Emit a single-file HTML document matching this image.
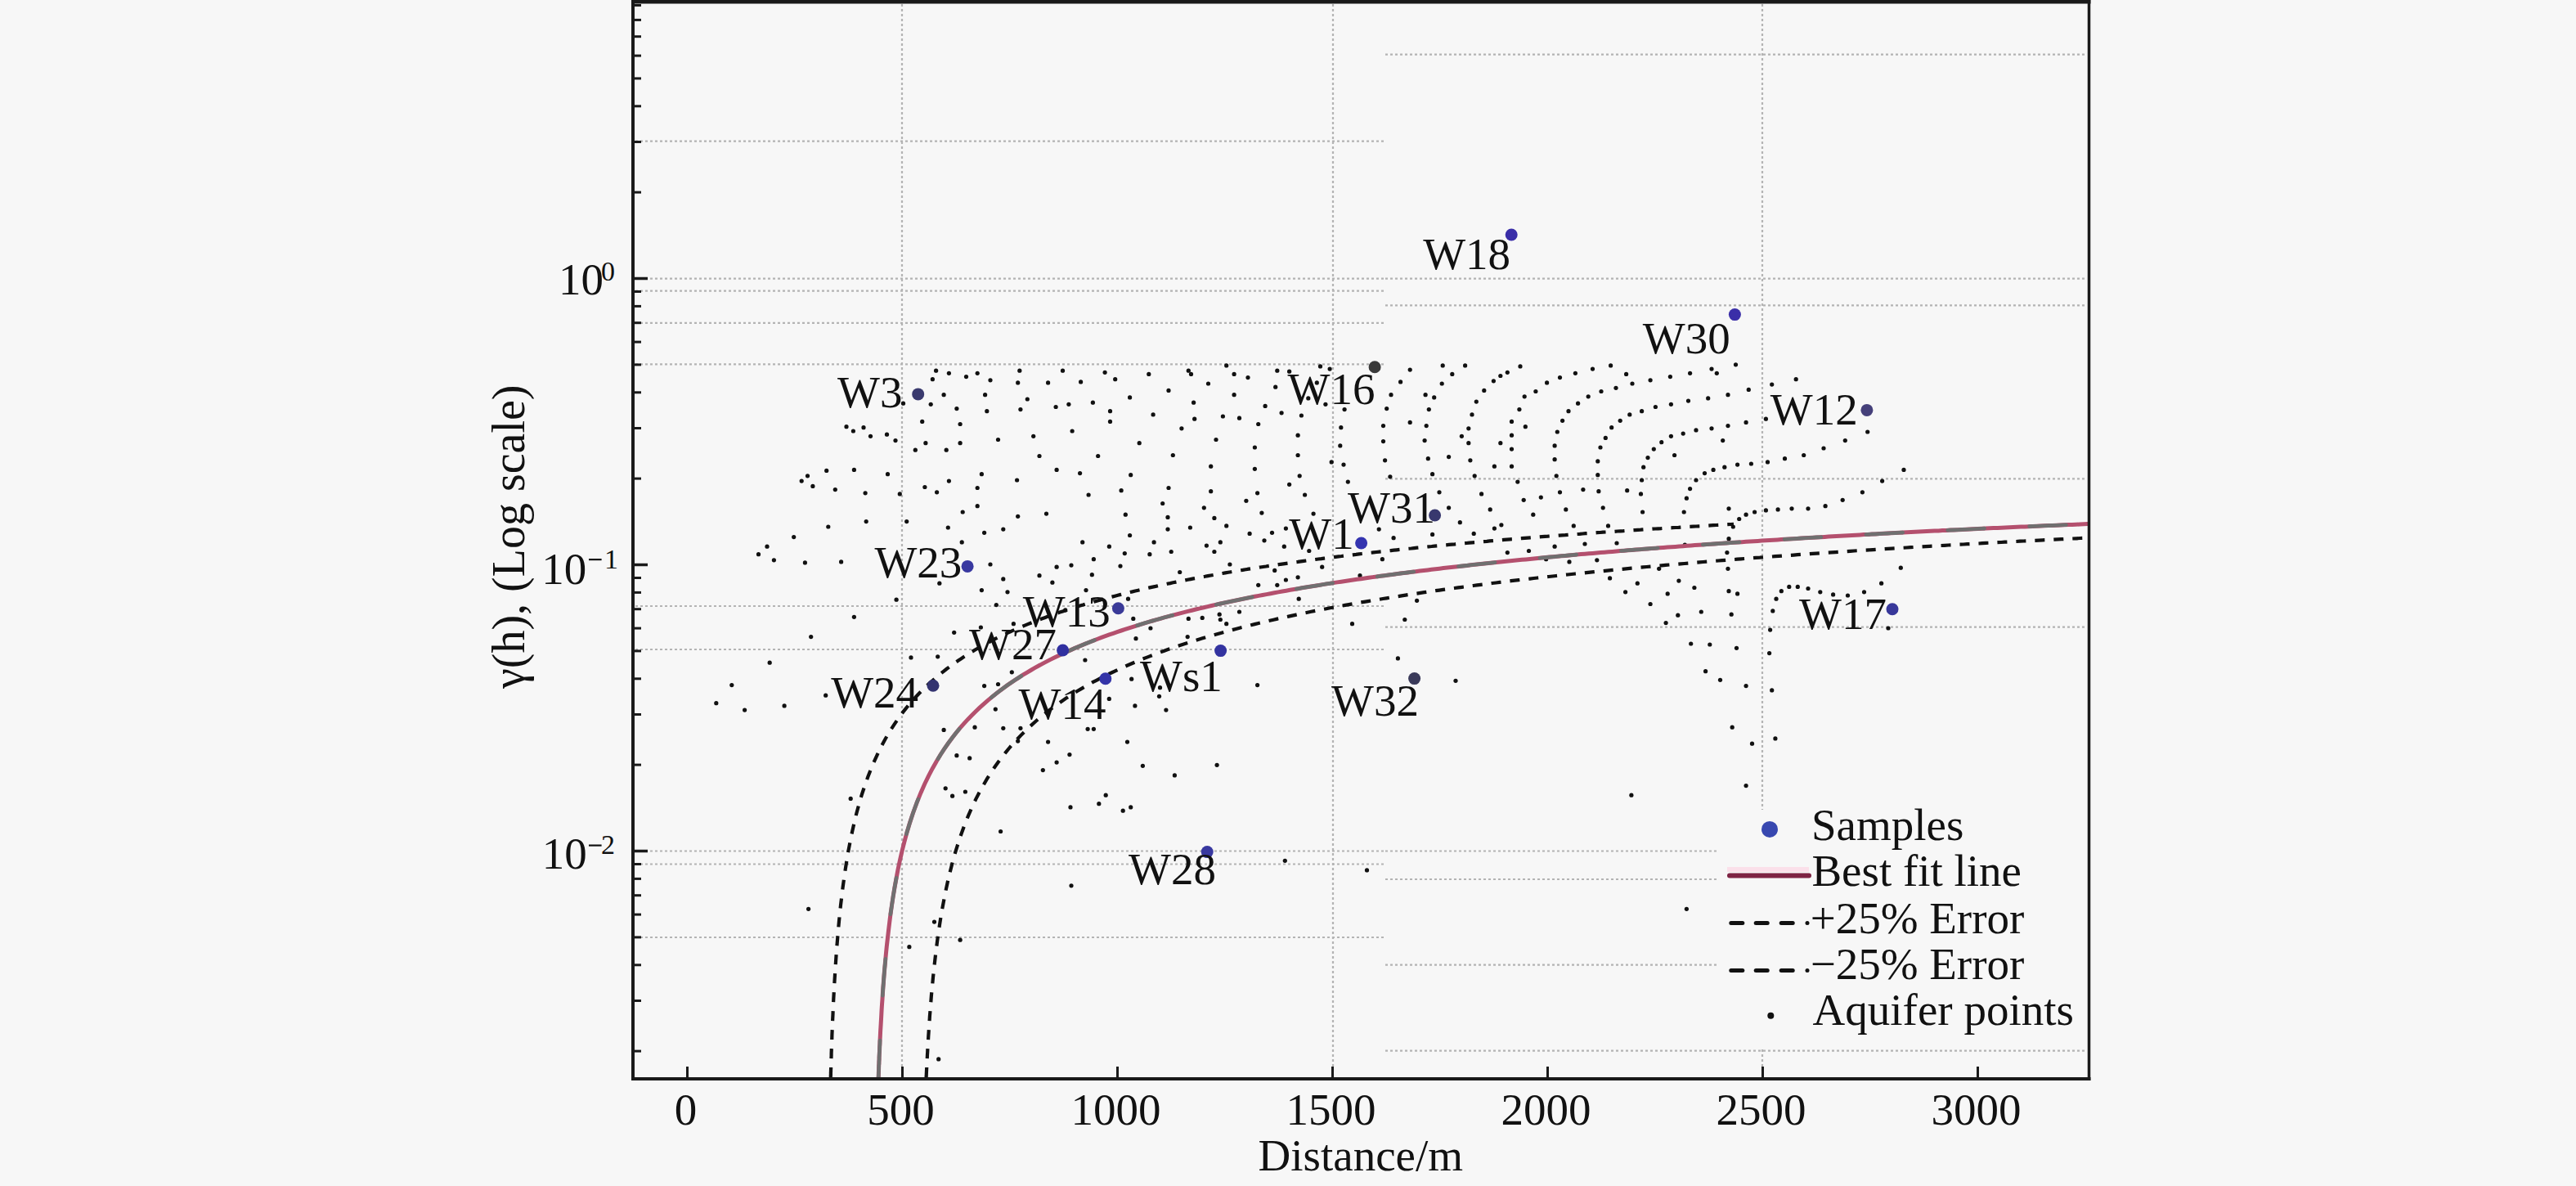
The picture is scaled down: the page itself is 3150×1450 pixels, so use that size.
<!DOCTYPE html><html><head><meta charset="utf-8"><style>html,body{margin:0;padding:0;background:#f7f7f7;}svg{display:block}</style></head><body>
<svg width="3150" height="1450" viewBox="0 0 3150 1450">
<rect width="3150" height="1450" fill="#f7f7f7"/>
<g stroke="#b4b4b4" stroke-width="2.2" stroke-dasharray="3 3" fill="none"><line x1="777" y1="172.6" x2="1694" y2="172.6"/><line x1="777" y1="340.6" x2="1694" y2="340.6"/><line x1="777" y1="355.7" x2="1694" y2="355.7"/><line x1="777" y1="394.9" x2="1694" y2="394.9"/><line x1="777" y1="445.3" x2="1694" y2="445.3"/><line x1="777" y1="741" x2="1694" y2="741"/><line x1="777" y1="794" x2="1694" y2="794"/><line x1="777" y1="1040.5" x2="1694" y2="1040.5"/><line x1="777" y1="1056.5" x2="1694" y2="1056.5"/><line x1="777" y1="1146" x2="1694" y2="1146"/><line x1="1694" y1="66.7" x2="2552" y2="66.7"/><line x1="1694" y1="340.6" x2="2552" y2="340.6"/><line x1="1694" y1="373.3" x2="2552" y2="373.3"/><line x1="1694" y1="585.3" x2="2552" y2="585.3"/><line x1="1694" y1="766.7" x2="2552" y2="766.7"/><line x1="1694" y1="1075" x2="2552" y2="1075"/><line x1="1694" y1="1179.6" x2="2552" y2="1179.6"/><line x1="1694" y1="1284.6" x2="2552" y2="1284.6"/><line x1="1694" y1="1040.5" x2="2552" y2="1040.5"/><line x1="1103" y1="5" x2="1103" y2="1316"/><line x1="1630" y1="5" x2="1630" y2="1316"/><line x1="2155" y1="5" x2="2155" y2="1316"/></g>

<g fill="#111"><circle cx="1144.6" cy="453.2" r="2.6"/><circle cx="1140.4" cy="463.7" r="2.6"/><circle cx="1160.4" cy="456.3" r="2.6"/><circle cx="1181.5" cy="460.6" r="2.6"/><circle cx="1195.2" cy="456.3" r="2.6"/><circle cx="1211.0" cy="464.8" r="2.6"/><circle cx="1246.8" cy="453.2" r="2.6"/><circle cx="1299.5" cy="453.2" r="2.6"/><circle cx="1351.1" cy="455.3" r="2.6"/><circle cx="1244.7" cy="467.9" r="2.6"/><circle cx="1281.6" cy="467.9" r="2.6"/><circle cx="1321.6" cy="466.9" r="2.6"/><circle cx="1154.1" cy="482.7" r="2.6"/><circle cx="1204.6" cy="482.7" r="2.6"/><circle cx="1256.3" cy="488.0" r="2.6"/><circle cx="1291.1" cy="497.5" r="2.6"/><circle cx="1306.9" cy="494.3" r="2.6"/><circle cx="1336.4" cy="492.2" r="2.6"/><circle cx="1357.5" cy="502.7" r="2.6"/><circle cx="1104.5" cy="493.2" r="2.6"/><circle cx="1138.2" cy="494.3" r="2.6"/><circle cx="1169.9" cy="499.6" r="2.6"/><circle cx="1206.8" cy="502.7" r="2.6"/><circle cx="1247.9" cy="500.6" r="2.6"/><circle cx="1357.5" cy="515.4" r="2.6"/><circle cx="1127.7" cy="515.4" r="2.6"/><circle cx="1174.1" cy="518.5" r="2.6"/><circle cx="1311.1" cy="527.0" r="2.6"/><circle cx="1263.7" cy="533.3" r="2.6"/><circle cx="1035.0" cy="521.7" r="2.6"/><circle cx="1043.4" cy="527.0" r="2.6"/><circle cx="1056.0" cy="522.7" r="2.6"/><circle cx="1064.5" cy="533.3" r="2.6"/><circle cx="1084.5" cy="531.2" r="2.6"/><circle cx="1095.0" cy="538.6" r="2.6"/><circle cx="1131.9" cy="541.7" r="2.6"/><circle cx="1119.3" cy="550.2" r="2.6"/><circle cx="1157.2" cy="550.2" r="2.6"/><circle cx="1174.1" cy="541.7" r="2.6"/><circle cx="1220.5" cy="537.5" r="2.6"/><circle cx="1271.0" cy="557.5" r="2.6"/><circle cx="1342.7" cy="557.5" r="2.6"/><circle cx="987.5" cy="581.8" r="2.6"/><circle cx="980.2" cy="588.1" r="2.6"/><circle cx="1010.7" cy="575.4" r="2.6"/><circle cx="1044.4" cy="574.4" r="2.6"/><circle cx="1085.5" cy="579.7" r="2.6"/><circle cx="1292.1" cy="574.4" r="2.6"/><circle cx="1320.6" cy="578.6" r="2.6"/><circle cx="1200.4" cy="579.7" r="2.6"/><circle cx="993.9" cy="594.4" r="2.6"/><circle cx="1021.3" cy="598.6" r="2.6"/><circle cx="1058.1" cy="602.8" r="2.6"/><circle cx="1100.3" cy="603.9" r="2.6"/><circle cx="1130.9" cy="595.5" r="2.6"/><circle cx="1145.6" cy="601.8" r="2.6"/><circle cx="1160.4" cy="588.1" r="2.6"/><circle cx="1195.2" cy="596.5" r="2.6"/><circle cx="1243.6" cy="587.0" r="2.6"/><circle cx="1331.1" cy="605.0" r="2.6"/><circle cx="1195.2" cy="618.7" r="2.6"/><circle cx="1177.2" cy="626.0" r="2.6"/><circle cx="1244.7" cy="631.3" r="2.6"/><circle cx="1279.5" cy="628.1" r="2.6"/><circle cx="1059.2" cy="637.6" r="2.6"/><circle cx="1108.7" cy="637.6" r="2.6"/><circle cx="1012.8" cy="644.0" r="2.6"/><circle cx="1159.3" cy="645.0" r="2.6"/><circle cx="1203.6" cy="651.3" r="2.6"/><circle cx="1226.8" cy="647.1" r="2.6"/><circle cx="970.7" cy="656.6" r="2.6"/><circle cx="938.0" cy="668.2" r="2.6"/><circle cx="927.5" cy="677.7" r="2.6"/><circle cx="1176.2" cy="662.9" r="2.6"/><circle cx="1323.7" cy="662.9" r="2.6"/><circle cx="1356.4" cy="668.2" r="2.6"/><circle cx="1363.7" cy="463.7" r="2.6"/><circle cx="1404.8" cy="457.4" r="2.6"/><circle cx="1453.3" cy="453.2" r="2.6"/><circle cx="1456.5" cy="457.4" r="2.6"/><circle cx="1499.7" cy="446.9" r="2.6"/><circle cx="1509.1" cy="457.4" r="2.6"/><circle cx="1526.0" cy="461.6" r="2.6"/><circle cx="1561.8" cy="453.2" r="2.6"/><circle cx="1576.6" cy="454.2" r="2.6"/><circle cx="1614.5" cy="447.9" r="2.6"/><circle cx="1626.1" cy="451.1" r="2.6"/><circle cx="1724.2" cy="452.1" r="2.6"/><circle cx="1764.2" cy="446.9" r="2.6"/><circle cx="1775.8" cy="457.4" r="2.6"/><circle cx="1791.6" cy="446.9" r="2.6"/><circle cx="1834.8" cy="459.5" r="2.6"/><circle cx="1843.3" cy="455.3" r="2.6"/><circle cx="1826.4" cy="465.8" r="2.6"/><circle cx="1712.6" cy="466.9" r="2.6"/><circle cx="1763.2" cy="469.0" r="2.6"/><circle cx="1477.5" cy="469.0" r="2.6"/><circle cx="1429.0" cy="477.4" r="2.6"/><circle cx="1381.6" cy="485.9" r="2.6"/><circle cx="1459.6" cy="492.2" r="2.6"/><circle cx="1509.1" cy="482.7" r="2.6"/><circle cx="1559.7" cy="473.2" r="2.6"/><circle cx="1610.3" cy="467.9" r="2.6"/><circle cx="1599.8" cy="486.9" r="2.6"/><circle cx="1620.9" cy="494.3" r="2.6"/><circle cx="1701.0" cy="482.7" r="2.6"/><circle cx="1743.1" cy="482.7" r="2.6"/><circle cx="1753.7" cy="485.9" r="2.6"/><circle cx="1814.8" cy="477.4" r="2.6"/><circle cx="1805.3" cy="491.1" r="2.6"/><circle cx="1547.1" cy="496.4" r="2.6"/><circle cx="1410.1" cy="506.9" r="2.6"/><circle cx="1460.7" cy="512.2" r="2.6"/><circle cx="1495.4" cy="509.0" r="2.6"/><circle cx="1515.5" cy="511.2" r="2.6"/><circle cx="1538.7" cy="518.5" r="2.6"/><circle cx="1567.1" cy="504.8" r="2.6"/><circle cx="1591.4" cy="508.0" r="2.6"/><circle cx="1644.1" cy="500.6" r="2.6"/><circle cx="1695.7" cy="499.6" r="2.6"/><circle cx="1747.3" cy="500.6" r="2.6"/><circle cx="1800.0" cy="506.9" r="2.6"/><circle cx="1444.9" cy="523.8" r="2.6"/><circle cx="1639.8" cy="522.7" r="2.6"/><circle cx="1691.5" cy="520.6" r="2.6"/><circle cx="1724.2" cy="516.4" r="2.6"/><circle cx="1744.2" cy="520.6" r="2.6"/><circle cx="1795.8" cy="523.8" r="2.6"/><circle cx="1848.5" cy="515.4" r="2.6"/><circle cx="1393.2" cy="541.7" r="2.6"/><circle cx="1487.0" cy="537.5" r="2.6"/><circle cx="1587.1" cy="532.2" r="2.6"/><circle cx="1691.5" cy="539.6" r="2.6"/><circle cx="1742.1" cy="538.6" r="2.6"/><circle cx="1787.4" cy="533.3" r="2.6"/><circle cx="1795.8" cy="541.7" r="2.6"/><circle cx="1834.8" cy="541.7" r="2.6"/><circle cx="1848.5" cy="532.2" r="2.6"/><circle cx="1434.3" cy="556.5" r="2.6"/><circle cx="1534.4" cy="547.0" r="2.6"/><circle cx="1587.1" cy="556.5" r="2.6"/><circle cx="1638.8" cy="544.9" r="2.6"/><circle cx="1771.6" cy="558.6" r="2.6"/><circle cx="1848.5" cy="549.1" r="2.6"/><circle cx="1480.7" cy="570.2" r="2.6"/><circle cx="1534.4" cy="573.3" r="2.6"/><circle cx="1628.2" cy="564.9" r="2.6"/><circle cx="1643.0" cy="568.1" r="2.6"/><circle cx="1693.6" cy="562.8" r="2.6"/><circle cx="1746.3" cy="560.7" r="2.6"/><circle cx="1797.9" cy="562.8" r="2.6"/><circle cx="1827.4" cy="570.2" r="2.6"/><circle cx="1848.5" cy="570.2" r="2.6"/><circle cx="1382.7" cy="580.7" r="2.6"/><circle cx="1589.2" cy="581.8" r="2.6"/><circle cx="1699.9" cy="582.8" r="2.6"/><circle cx="1751.6" cy="579.7" r="2.6"/><circle cx="1803.2" cy="581.8" r="2.6"/><circle cx="1371.1" cy="599.7" r="2.6"/><circle cx="1429.0" cy="596.5" r="2.6"/><circle cx="1576.6" cy="592.3" r="2.6"/><circle cx="1648.3" cy="589.1" r="2.6"/><circle cx="1480.7" cy="600.7" r="2.6"/><circle cx="1537.6" cy="602.8" r="2.6"/><circle cx="1595.6" cy="605.0" r="2.6"/><circle cx="1811.6" cy="603.9" r="2.6"/><circle cx="1421.7" cy="615.5" r="2.6"/><circle cx="1472.3" cy="620.8" r="2.6"/><circle cx="1523.9" cy="612.3" r="2.6"/><circle cx="1760.0" cy="601.8" r="2.6"/><circle cx="1771.6" cy="620.8" r="2.6"/><circle cx="1822.2" cy="622.9" r="2.6"/><circle cx="1376.3" cy="629.2" r="2.6"/><circle cx="1428.0" cy="632.4" r="2.6"/><circle cx="1484.9" cy="633.4" r="2.6"/><circle cx="1542.9" cy="627.1" r="2.6"/><circle cx="1606.1" cy="628.1" r="2.6"/><circle cx="1428.0" cy="647.1" r="2.6"/><circle cx="1455.4" cy="645.0" r="2.6"/><circle cx="1499.7" cy="642.9" r="2.6"/><circle cx="1572.4" cy="646.1" r="2.6"/><circle cx="1686.2" cy="647.1" r="2.6"/><circle cx="1785.3" cy="638.7" r="2.6"/><circle cx="1827.4" cy="646.1" r="2.6"/><circle cx="1835.9" cy="641.8" r="2.6"/><circle cx="1381.6" cy="654.5" r="2.6"/><circle cx="1411.1" cy="662.9" r="2.6"/><circle cx="1492.3" cy="662.9" r="2.6"/><circle cx="1528.1" cy="652.4" r="2.6"/><circle cx="1546.0" cy="660.8" r="2.6"/><circle cx="1555.5" cy="651.3" r="2.6"/><circle cx="1704.1" cy="657.7" r="2.6"/><circle cx="1751.6" cy="653.4" r="2.6"/><circle cx="1802.2" cy="652.4" r="2.6"/><circle cx="1475.4" cy="667.1" r="2.6"/><circle cx="1570.3" cy="668.2" r="2.6"/><circle cx="1600.8" cy="673.5" r="2.6"/><circle cx="1484.9" cy="674.5" r="2.6"/><circle cx="1432.2" cy="674.5" r="2.6"/><circle cx="1375.3" cy="676.6" r="2.6"/><circle cx="1405.9" cy="677.7" r="2.6"/><circle cx="1843.3" cy="675.6" r="2.6"/><circle cx="1859.0" cy="447.9" r="2.6"/><circle cx="1907.5" cy="461.6" r="2.6"/><circle cx="1926.4" cy="456.3" r="2.6"/><circle cx="1947.5" cy="451.1" r="2.6"/><circle cx="1969.6" cy="446.9" r="2.6"/><circle cx="1988.6" cy="457.4" r="2.6"/><circle cx="1996.0" cy="469.0" r="2.6"/><circle cx="2018.1" cy="464.8" r="2.6"/><circle cx="2042.4" cy="460.6" r="2.6"/><circle cx="2066.6" cy="456.3" r="2.6"/><circle cx="2093.0" cy="451.1" r="2.6"/><circle cx="2099.3" cy="456.3" r="2.6"/><circle cx="2122.5" cy="445.8" r="2.6"/><circle cx="2196.2" cy="463.7" r="2.6"/><circle cx="2166.7" cy="470.1" r="2.6"/><circle cx="2138.3" cy="476.4" r="2.6"/><circle cx="2113.0" cy="482.7" r="2.6"/><circle cx="1891.6" cy="467.9" r="2.6"/><circle cx="1877.9" cy="478.5" r="2.6"/><circle cx="1864.2" cy="484.8" r="2.6"/><circle cx="1857.9" cy="500.6" r="2.6"/><circle cx="1958.0" cy="478.5" r="2.6"/><circle cx="1976.0" cy="474.3" r="2.6"/><circle cx="1942.2" cy="484.8" r="2.6"/><circle cx="1929.6" cy="493.2" r="2.6"/><circle cx="1918.0" cy="502.7" r="2.6"/><circle cx="1910.6" cy="514.3" r="2.6"/><circle cx="1904.3" cy="528.0" r="2.6"/><circle cx="1901.1" cy="544.9" r="2.6"/><circle cx="1901.1" cy="561.7" r="2.6"/><circle cx="1903.2" cy="581.8" r="2.6"/><circle cx="1865.3" cy="521.7" r="2.6"/><circle cx="2088.7" cy="486.9" r="2.6"/><circle cx="2064.5" cy="490.1" r="2.6"/><circle cx="2043.4" cy="494.3" r="2.6"/><circle cx="2024.4" cy="497.5" r="2.6"/><circle cx="2007.6" cy="502.7" r="2.6"/><circle cx="1992.8" cy="506.9" r="2.6"/><circle cx="1981.2" cy="514.3" r="2.6"/><circle cx="1970.7" cy="522.7" r="2.6"/><circle cx="1963.3" cy="535.4" r="2.6"/><circle cx="1957.0" cy="547.0" r="2.6"/><circle cx="1953.8" cy="563.9" r="2.6"/><circle cx="1953.8" cy="580.7" r="2.6"/><circle cx="2159.4" cy="512.2" r="2.6"/><circle cx="2135.1" cy="516.4" r="2.6"/><circle cx="2113.0" cy="520.6" r="2.6"/><circle cx="2093.0" cy="523.8" r="2.6"/><circle cx="2074.0" cy="525.9" r="2.6"/><circle cx="2058.2" cy="530.1" r="2.6"/><circle cx="2043.4" cy="533.3" r="2.6"/><circle cx="2031.8" cy="540.7" r="2.6"/><circle cx="2022.3" cy="549.1" r="2.6"/><circle cx="2015.0" cy="559.6" r="2.6"/><circle cx="2009.7" cy="571.2" r="2.6"/><circle cx="2007.6" cy="587.0" r="2.6"/><circle cx="2006.5" cy="603.9" r="2.6"/><circle cx="2008.6" cy="626.0" r="2.6"/><circle cx="2047.6" cy="556.5" r="2.6"/><circle cx="2106.7" cy="538.6" r="2.6"/><circle cx="2283.7" cy="528.0" r="2.6"/><circle cx="2256.3" cy="538.6" r="2.6"/><circle cx="2230.0" cy="548.0" r="2.6"/><circle cx="2205.7" cy="556.5" r="2.6"/><circle cx="2182.5" cy="560.7" r="2.6"/><circle cx="2161.5" cy="564.9" r="2.6"/><circle cx="2141.4" cy="567.0" r="2.6"/><circle cx="2124.6" cy="568.1" r="2.6"/><circle cx="2108.8" cy="571.2" r="2.6"/><circle cx="2095.1" cy="574.4" r="2.6"/><circle cx="2084.5" cy="578.6" r="2.6"/><circle cx="2074.0" cy="587.0" r="2.6"/><circle cx="2066.6" cy="597.6" r="2.6"/><circle cx="2062.4" cy="609.2" r="2.6"/><circle cx="2059.2" cy="626.0" r="2.6"/><circle cx="2328.0" cy="574.4" r="2.6"/><circle cx="2301.6" cy="588.1" r="2.6"/><circle cx="2277.4" cy="601.8" r="2.6"/><circle cx="2253.2" cy="611.3" r="2.6"/><circle cx="2232.1" cy="618.7" r="2.6"/><circle cx="2211.0" cy="621.8" r="2.6"/><circle cx="2191.0" cy="621.8" r="2.6"/><circle cx="2174.1" cy="622.9" r="2.6"/><circle cx="2159.4" cy="623.9" r="2.6"/><circle cx="2145.6" cy="626.0" r="2.6"/><circle cx="2135.1" cy="629.2" r="2.6"/><circle cx="2126.7" cy="634.5" r="2.6"/><circle cx="2119.3" cy="644.0" r="2.6"/><circle cx="2114.0" cy="621.8" r="2.6"/><circle cx="1855.8" cy="589.1" r="2.6"/><circle cx="1935.9" cy="598.6" r="2.6"/><circle cx="1954.9" cy="600.7" r="2.6"/><circle cx="1989.7" cy="599.7" r="2.6"/><circle cx="1907.5" cy="601.8" r="2.6"/><circle cx="1884.3" cy="608.1" r="2.6"/><circle cx="1863.2" cy="611.3" r="2.6"/><circle cx="1914.8" cy="622.9" r="2.6"/><circle cx="1960.2" cy="620.8" r="2.6"/><circle cx="1874.8" cy="629.2" r="2.6"/><circle cx="1924.3" cy="642.9" r="2.6"/><circle cx="1966.5" cy="642.9" r="2.6"/><circle cx="1901.1" cy="668.2" r="2.6"/><circle cx="1938.0" cy="665.0" r="2.6"/><circle cx="1977.0" cy="664.0" r="2.6"/><circle cx="2060.3" cy="666.1" r="2.6"/><circle cx="2114.0" cy="658.7" r="2.6"/><circle cx="2111.9" cy="675.6" r="2.6"/><circle cx="1869.5" cy="673.5" r="2.6"/><circle cx="946.4" cy="684.8" r="2.6"/><circle cx="984.4" cy="687.9" r="2.6"/><circle cx="1028.6" cy="686.9" r="2.6"/><circle cx="1211.0" cy="690.0" r="2.6"/><circle cx="1226.8" cy="707.9" r="2.6"/><circle cx="1292.1" cy="693.2" r="2.6"/><circle cx="1310.0" cy="691.1" r="2.6"/><circle cx="1337.4" cy="683.7" r="2.6"/><circle cx="1271.0" cy="703.7" r="2.6"/><circle cx="1286.9" cy="712.2" r="2.6"/><circle cx="1335.3" cy="702.7" r="2.6"/><circle cx="1200.4" cy="721.6" r="2.6"/><circle cx="1232.0" cy="723.8" r="2.6"/><circle cx="1148.8" cy="713.2" r="2.6"/><circle cx="1096.1" cy="733.2" r="2.6"/><circle cx="1044.4" cy="754.3" r="2.6"/><circle cx="991.7" cy="778.6" r="2.6"/><circle cx="1166.7" cy="773.3" r="2.6"/><circle cx="1218.3" cy="739.6" r="2.6"/><circle cx="1328.0" cy="721.6" r="2.6"/><circle cx="941.2" cy="810.2" r="2.6"/><circle cx="1114.0" cy="803.9" r="2.6"/><circle cx="1146.7" cy="802.8" r="2.6"/><circle cx="1326.9" cy="807.0" r="2.6"/><circle cx="894.8" cy="837.6" r="2.6"/><circle cx="1009.7" cy="850.2" r="2.6"/><circle cx="875.8" cy="859.7" r="2.6"/><circle cx="910.6" cy="868.1" r="2.6"/><circle cx="959.1" cy="862.9" r="2.6"/><circle cx="1237.3" cy="821.8" r="2.6"/><circle cx="1203.6" cy="838.6" r="2.6"/><circle cx="1220.5" cy="836.5" r="2.6"/><circle cx="1217.3" cy="867.1" r="2.6"/><circle cx="1154.1" cy="892.4" r="2.6"/><circle cx="1192.0" cy="889.2" r="2.6"/><circle cx="1226.8" cy="890.3" r="2.6"/><circle cx="1247.9" cy="890.3" r="2.6"/><circle cx="1330.1" cy="891.3" r="2.6"/><circle cx="1337.4" cy="891.3" r="2.6"/><circle cx="1281.6" cy="907.1" r="2.6"/><circle cx="1244.7" cy="906.1" r="2.6"/><circle cx="1199.4" cy="767.0" r="2.6"/><circle cx="1239.4" cy="762.7" r="2.6"/><circle cx="1302.7" cy="745.9" r="2.6"/><circle cx="2324.3" cy="694.2" r="2.6"/><circle cx="1370.0" cy="692.1" r="2.6"/><circle cx="1379.5" cy="732.2" r="2.6"/><circle cx="1385.8" cy="756.4" r="2.6"/><circle cx="1389.0" cy="780.7" r="2.6"/><circle cx="1406.9" cy="768.0" r="2.6"/><circle cx="1453.3" cy="756.4" r="2.6"/><circle cx="1470.2" cy="755.4" r="2.6"/><circle cx="1491.2" cy="751.2" r="2.6"/><circle cx="1492.3" cy="757.5" r="2.6"/><circle cx="1499.7" cy="762.7" r="2.6"/><circle cx="1515.5" cy="748.0" r="2.6"/><circle cx="1538.7" cy="715.3" r="2.6"/><circle cx="1561.8" cy="715.3" r="2.6"/><circle cx="1572.4" cy="709.0" r="2.6"/><circle cx="1587.1" cy="705.8" r="2.6"/><circle cx="1588.2" cy="732.2" r="2.6"/><circle cx="1616.7" cy="693.2" r="2.6"/><circle cx="1663.0" cy="703.7" r="2.6"/><circle cx="1690.4" cy="683.7" r="2.6"/><circle cx="1732.6" cy="734.3" r="2.6"/><circle cx="1717.8" cy="757.5" r="2.6"/><circle cx="1653.5" cy="762.7" r="2.6"/><circle cx="1709.4" cy="804.9" r="2.6"/><circle cx="1780.0" cy="832.3" r="2.6"/><circle cx="1537.6" cy="837.6" r="2.6"/><circle cx="1383.7" cy="830.2" r="2.6"/><circle cx="1418.5" cy="840.7" r="2.6"/><circle cx="1417.5" cy="851.3" r="2.6"/><circle cx="1356.3" cy="854.4" r="2.6"/><circle cx="1387.9" cy="862.9" r="2.6"/><circle cx="1425.9" cy="868.1" r="2.6"/><circle cx="1378.5" cy="907.1" r="2.6"/><circle cx="1442.7" cy="699.5" r="2.6"/><circle cx="1503.9" cy="690.0" r="2.6"/><circle cx="1558.7" cy="697.4" r="2.6"/><circle cx="1452.2" cy="778.6" r="2.6"/><circle cx="1890.6" cy="683.7" r="2.6"/><circle cx="1919.0" cy="686.9" r="2.6"/><circle cx="1952.8" cy="684.8" r="2.6"/><circle cx="1968.6" cy="706.9" r="2.6"/><circle cx="2002.3" cy="713.2" r="2.6"/><circle cx="1987.6" cy="723.8" r="2.6"/><circle cx="2028.7" cy="695.3" r="2.6"/><circle cx="2052.9" cy="710.1" r="2.6"/><circle cx="2071.9" cy="718.5" r="2.6"/><circle cx="2039.2" cy="725.9" r="2.6"/><circle cx="2018.1" cy="738.5" r="2.6"/><circle cx="2113.0" cy="695.3" r="2.6"/><circle cx="2114.0" cy="722.7" r="2.6"/><circle cx="2124.6" cy="725.9" r="2.6"/><circle cx="2080.3" cy="748.0" r="2.6"/><circle cx="2051.8" cy="752.2" r="2.6"/><circle cx="2117.2" cy="751.2" r="2.6"/><circle cx="2037.1" cy="761.7" r="2.6"/><circle cx="2300.6" cy="713.2" r="2.6"/><circle cx="2279.5" cy="723.8" r="2.6"/><circle cx="2259.5" cy="728.0" r="2.6"/><circle cx="2241.6" cy="726.9" r="2.6"/><circle cx="2225.8" cy="723.8" r="2.6"/><circle cx="2211.0" cy="719.5" r="2.6"/><circle cx="2198.3" cy="717.4" r="2.6"/><circle cx="2187.8" cy="717.4" r="2.6"/><circle cx="2178.3" cy="722.7" r="2.6"/><circle cx="2172.0" cy="732.2" r="2.6"/><circle cx="2167.8" cy="746.9" r="2.6"/><circle cx="2164.6" cy="770.1" r="2.6"/><circle cx="2067.7" cy="787.0" r="2.6"/><circle cx="2090.8" cy="788.0" r="2.6"/><circle cx="2123.5" cy="792.3" r="2.6"/><circle cx="2163.6" cy="798.6" r="2.6"/><circle cx="2085.6" cy="820.7" r="2.6"/><circle cx="2103.5" cy="831.3" r="2.6"/><circle cx="2135.1" cy="838.6" r="2.6"/><circle cx="2166.7" cy="843.9" r="2.6"/><circle cx="2118.2" cy="889.2" r="2.6"/><circle cx="2142.5" cy="909.2" r="2.6"/><circle cx="2170.9" cy="902.9" r="2.6"/><circle cx="2309.0" cy="768.0" r="2.6"/><circle cx="1169.9" cy="923.7" r="2.6"/><circle cx="1185.7" cy="926.9" r="2.6"/><circle cx="1156.2" cy="963.8" r="2.6"/><circle cx="1164.6" cy="973.2" r="2.6"/><circle cx="1180.4" cy="968.0" r="2.6"/><circle cx="1040.2" cy="976.4" r="2.6"/><circle cx="1223.6" cy="1016.5" r="2.6"/><circle cx="1275.3" cy="941.6" r="2.6"/><circle cx="1292.1" cy="932.1" r="2.6"/><circle cx="1307.9" cy="922.6" r="2.6"/><circle cx="1309.0" cy="986.9" r="2.6"/><circle cx="1343.8" cy="982.7" r="2.6"/><circle cx="1352.2" cy="972.2" r="2.6"/><circle cx="1310.0" cy="1082.8" r="2.6"/><circle cx="988.6" cy="1111.3" r="2.6"/><circle cx="1142.5" cy="1127.1" r="2.6"/><circle cx="1174.1" cy="1149.2" r="2.6"/><circle cx="1111.9" cy="1157.7" r="2.6"/><circle cx="1397.4" cy="936.3" r="2.6"/><circle cx="1436.4" cy="947.9" r="2.6"/><circle cx="1488.1" cy="935.3" r="2.6"/><circle cx="1373.2" cy="991.2" r="2.6"/><circle cx="1382.7" cy="986.9" r="2.6"/><circle cx="1571.3" cy="1052.3" r="2.6"/><circle cx="1671.5" cy="1063.9" r="2.6"/><circle cx="1994.9" cy="972.2" r="2.6"/><circle cx="2135.1" cy="960.6" r="2.6"/><circle cx="2062.4" cy="1111.3" r="2.6"/><circle cx="1147.7" cy="1294.9" r="2.6"/></g>
<path d="M1074.2,1317.0 L1074.2,1317.0 L1074.2,1317.0 L1074.2,1317.0 L1074.2,1317.0 L1074.2,1317.0 L1074.2,1317.0 L1074.2,1317.0 L1074.2,1317.0 L1074.2,1317.0 L1074.2,1317.0 L1074.2,1317.0 L1074.2,1317.0 L1074.2,1317.0 L1074.2,1317.0 L1074.2,1317.0 L1074.2,1316.9 L1074.2,1316.9 L1074.2,1316.9 L1074.2,1316.9 L1074.2,1316.9 L1074.2,1316.9 L1074.2,1316.9 L1074.2,1316.9 L1074.2,1316.9 L1074.2,1316.9 L1074.2,1316.8 L1074.2,1316.8 L1074.2,1316.8 L1074.2,1316.8 L1074.2,1316.8 L1074.2,1316.7 L1074.2,1316.7 L1074.2,1316.7 L1074.2,1316.6 L1074.2,1316.6 L1074.2,1316.6 L1074.2,1316.5 L1074.2,1316.5 L1074.2,1316.4 L1074.2,1316.4 L1074.2,1316.3 L1074.2,1316.2 L1074.2,1316.2 L1074.2,1316.1 L1074.2,1316.0 L1074.2,1315.9 L1074.2,1315.8 L1074.3,1315.6 L1074.3,1315.5 L1074.3,1315.4 L1074.3,1315.2 L1074.3,1315.0 L1074.3,1314.8 L1074.3,1314.6 L1074.3,1314.4 L1074.3,1314.1 L1074.3,1313.8 L1074.3,1313.5 L1074.3,1313.1 L1074.4,1312.8 L1074.4,1312.4 L1074.4,1311.9 L1074.4,1311.4 L1074.4,1310.8 L1074.5,1310.2 L1074.5,1309.6 L1074.5,1308.9 L1074.5,1308.1 L1074.6,1307.2 L1074.6,1306.3 L1074.6,1305.2 L1074.7,1304.1 L1074.7,1302.9 L1074.8,1301.5 L1074.9,1300.1 L1074.9,1298.5 L1075.0,1296.8 L1075.1,1294.9 L1075.1,1292.8 L1075.2,1290.6 L1075.3,1288.2 L1075.5,1285.6 L1075.6,1282.8 L1075.7,1279.8 L1075.9,1276.5 L1076.0,1273.0 L1076.2,1269.2 L1076.4,1265.1 L1076.6,1260.8 L1076.9,1256.2 L1077.2,1251.2 L1077.5,1245.9 L1077.8,1240.4 L1078.1,1234.4 L1078.5,1228.2 L1079.0,1221.6 L1079.4,1214.7 L1079.9,1207.4 L1080.5,1199.8 L1081.1,1191.8 L1081.8,1183.6 L1082.6,1175.0 L1083.4,1166.1 L1084.3,1156.9 L1085.4,1147.4 L1086.5,1137.7 L1087.7,1127.7 L1089.0,1117.4 L1090.5,1107.0 L1092.1,1096.3 L1093.9,1085.5 L1095.9,1074.5 L1098.0,1063.3 L1100.4,1052.1 L1103.0,1040.7 L1105.9,1029.2 L1109.0,1017.7 L1112.5,1006.1 L1116.3,994.5 L1121.1,981.3 L1125.9,969.4 L1130.7,958.5 L1135.5,948.6 L1140.3,939.4 L1145.1,930.9 L1149.9,923.0 L1154.7,915.6 L1159.5,908.7 L1164.3,902.2 L1169.1,896.0 L1173.9,890.2 L1178.8,884.7 L1183.6,879.4 L1188.4,874.5 L1193.2,869.7 L1198.0,865.1 L1202.8,860.8 L1207.6,856.6 L1212.4,852.6 L1217.2,848.7 L1222.0,845.0 L1226.8,841.4 L1231.6,837.9 L1236.4,834.6 L1241.2,831.4 L1246.0,828.3 L1250.8,825.2 L1255.6,822.3 L1260.4,819.5 L1265.2,816.7 L1270.0,814.0 L1274.9,811.4 L1279.7,808.9 L1284.5,806.4 L1289.3,804.0 L1294.1,801.7 L1298.9,799.4 L1303.7,797.2 L1308.5,795.1 L1313.3,792.9 L1318.1,790.9 L1322.9,788.9 L1327.7,786.9 L1332.5,785.0 L1337.3,783.1 L1342.1,781.2 L1346.9,779.4 L1351.7,777.7 L1356.5,775.9 L1361.3,774.3 L1366.1,772.6 L1371.0,771.0 L1375.8,769.4 L1380.6,767.8 L1385.4,766.3 L1390.2,764.8 L1395.0,763.3 L1399.8,761.8 L1404.6,760.4 L1409.4,759.0 L1414.2,757.6 L1419.0,756.3 L1423.8,754.9 L1428.6,753.6 L1433.4,752.3 L1438.2,751.1 L1443.0,749.8 L1447.8,748.6 L1452.6,747.4 L1457.4,746.2 L1462.2,745.0 L1467.1,743.9 L1471.9,742.7 L1476.7,741.6 L1481.5,740.5 L1486.3,739.4 L1491.1,738.3 L1495.9,737.3 L1500.7,736.2 L1505.5,735.2 L1510.3,734.2 L1515.1,733.2 L1519.9,732.2 L1524.7,731.2 L1529.5,730.3 L1534.3,729.3 L1539.1,728.4 L1543.9,727.5 L1548.7,726.6 L1553.5,725.7 L1558.4,724.8 L1563.2,723.9 L1568.0,723.0 L1572.8,722.2 L1577.6,721.3 L1582.4,720.5 L1587.2,719.7 L1592.0,718.8 L1596.8,718.0 L1601.6,717.2 L1606.4,716.5 L1611.2,715.7 L1616.0,714.9 L1620.8,714.1 L1625.6,713.4 L1630.4,712.6 L1635.2,711.9 L1640.0,711.2 L1644.8,710.5 L1649.6,709.7 L1654.5,709.0 L1659.3,708.3 L1664.1,707.7 L1668.9,707.0 L1673.7,706.3 L1678.5,705.6 L1683.3,705.0 L1688.1,704.3 L1692.9,703.7 L1697.7,703.0 L1702.5,702.4 L1707.3,701.7 L1712.1,701.1 L1716.9,700.5 L1721.7,699.9 L1726.5,699.3 L1731.3,698.7 L1736.1,698.1 L1740.9,697.5 L1745.7,696.9 L1750.6,696.3 L1755.4,695.8 L1760.2,695.2 L1765.0,694.6 L1769.8,694.1 L1774.6,693.5 L1779.4,693.0 L1784.2,692.4 L1789.0,691.9 L1793.8,691.4 L1798.6,690.8 L1803.4,690.3 L1808.2,689.8 L1813.0,689.3 L1817.8,688.8 L1822.6,688.2 L1827.4,687.7 L1832.2,687.2 L1837.0,686.7 L1841.8,686.3 L1846.7,685.8 L1851.5,685.3 L1856.3,684.8 L1861.1,684.3 L1865.9,683.9 L1870.7,683.4 L1875.5,682.9 L1880.3,682.5 L1885.1,682.0 L1889.9,681.6 L1894.7,681.1 L1899.5,680.7 L1904.3,680.2 L1909.1,679.8 L1913.9,679.4 L1918.7,678.9 L1923.5,678.5 L1928.3,678.1 L1933.1,677.6 L1938.0,677.2 L1942.8,676.8 L1947.6,676.4 L1952.4,676.0 L1957.2,675.6 L1962.0,675.2 L1966.8,674.8 L1971.6,674.4 L1976.4,674.0 L1981.2,673.6 L1986.0,673.2 L1990.8,672.8 L1995.6,672.4 L2000.4,672.0 L2005.2,671.7 L2010.0,671.3 L2014.8,670.9 L2019.6,670.5 L2024.4,670.2 L2029.2,669.8 L2034.1,669.4 L2038.9,669.1 L2043.7,668.7 L2048.5,668.4 L2053.3,668.0 L2058.1,667.7 L2062.9,667.3 L2067.7,667.0 L2072.5,666.6 L2077.3,666.3 L2082.1,665.9 L2086.9,665.6 L2091.7,665.3 L2096.5,664.9 L2101.3,664.6 L2106.1,664.3 L2110.9,663.9 L2115.7,663.6 L2120.5,663.3 L2125.3,663.0 L2130.2,662.7 L2135.0,662.3 L2139.8,662.0 L2144.6,661.7 L2149.4,661.4 L2154.2,661.1 L2159.0,660.8 L2163.8,660.5 L2168.6,660.2 L2173.4,659.9 L2178.2,659.6 L2183.0,659.3 L2187.8,659.0 L2192.6,658.7 L2197.4,658.4 L2202.2,658.1 L2207.0,657.8 L2211.8,657.5 L2216.6,657.2 L2221.5,656.9 L2226.3,656.7 L2231.1,656.4 L2235.9,656.1 L2240.7,655.8 L2245.5,655.5 L2250.3,655.3 L2255.1,655.0 L2259.9,654.7 L2264.7,654.5 L2269.5,654.2 L2274.3,653.9 L2279.1,653.6 L2283.9,653.4 L2288.7,653.1 L2293.5,652.9 L2298.3,652.6 L2303.1,652.3 L2307.9,652.1 L2312.7,651.8 L2317.6,651.6 L2322.4,651.3 L2327.2,651.1 L2332.0,650.8 L2336.8,650.6 L2341.6,650.3 L2346.4,650.1 L2351.2,649.8 L2356.0,649.6 L2360.8,649.3 L2365.6,649.1 L2370.4,648.9 L2375.2,648.6 L2380.0,648.4 L2384.8,648.1 L2389.6,647.9 L2394.4,647.7 L2399.2,647.4 L2404.0,647.2 L2408.8,647.0 L2413.7,646.8 L2418.5,646.5 L2423.3,646.3 L2428.1,646.1 L2432.9,645.8 L2437.7,645.6 L2442.5,645.4 L2447.3,645.2 L2452.1,645.0 L2456.9,644.7 L2461.7,644.5 L2466.5,644.3 L2471.3,644.1 L2476.1,643.9 L2480.9,643.7 L2485.7,643.4 L2490.5,643.2 L2495.3,643.0 L2500.1,642.8 L2504.9,642.6 L2509.8,642.4 L2514.6,642.2 L2519.4,642.0 L2524.2,641.8 L2529.0,641.6 L2533.8,641.4 L2538.6,641.2 L2543.4,641.0 L2548.2,640.8 L2553.0,640.6" fill="none" stroke="#b4506e" stroke-width="5" stroke-linecap="round"/>
<path d="M1074.2,1317.0 L1074.2,1317.0 L1074.2,1317.0 L1074.2,1317.0 L1074.2,1317.0 L1074.2,1317.0 L1074.2,1317.0 L1074.2,1317.0 L1074.2,1317.0 L1074.2,1317.0 L1074.2,1317.0 L1074.2,1317.0 L1074.2,1317.0 L1074.2,1317.0 L1074.2,1317.0 L1074.2,1317.0 L1074.2,1316.9 L1074.2,1316.9 L1074.2,1316.9 L1074.2,1316.9 L1074.2,1316.9 L1074.2,1316.9 L1074.2,1316.9 L1074.2,1316.9 L1074.2,1316.9 L1074.2,1316.9 L1074.2,1316.8 L1074.2,1316.8 L1074.2,1316.8 L1074.2,1316.8 L1074.2,1316.8 L1074.2,1316.7 L1074.2,1316.7 L1074.2,1316.7 L1074.2,1316.6 L1074.2,1316.6 L1074.2,1316.6 L1074.2,1316.5 L1074.2,1316.5 L1074.2,1316.4 L1074.2,1316.4 L1074.2,1316.3 L1074.2,1316.2 L1074.2,1316.2 L1074.2,1316.1 L1074.2,1316.0 L1074.2,1315.9 L1074.2,1315.8 L1074.3,1315.6 L1074.3,1315.5 L1074.3,1315.4 L1074.3,1315.2 L1074.3,1315.0 L1074.3,1314.8 L1074.3,1314.6 L1074.3,1314.4 L1074.3,1314.1 L1074.3,1313.8 L1074.3,1313.5 L1074.3,1313.1 L1074.4,1312.8 L1074.4,1312.4 L1074.4,1311.9 L1074.4,1311.4 L1074.4,1310.8 L1074.5,1310.2 L1074.5,1309.6 L1074.5,1308.9 L1074.5,1308.1 L1074.6,1307.2 L1074.6,1306.3 L1074.6,1305.2 L1074.7,1304.1 L1074.7,1302.9 L1074.8,1301.5 L1074.9,1300.1 L1074.9,1298.5 L1075.0,1296.8 L1075.1,1294.9 L1075.1,1292.8 L1075.2,1290.6 L1075.3,1288.2 L1075.5,1285.6 L1075.6,1282.8 L1075.7,1279.8 L1075.9,1276.5 L1076.0,1273.0 L1076.2,1269.2 L1076.4,1265.1 L1076.6,1260.8 L1076.9,1256.2 L1077.2,1251.2 L1077.5,1245.9 L1077.8,1240.4 L1078.1,1234.4 L1078.5,1228.2 L1079.0,1221.6 L1079.4,1214.7 L1079.9,1207.4 L1080.5,1199.8 L1081.1,1191.8 L1081.8,1183.6 L1082.6,1175.0 L1083.4,1166.1 L1084.3,1156.9 L1085.4,1147.4 L1086.5,1137.7 L1087.7,1127.7 L1089.0,1117.4 L1090.5,1107.0 L1092.1,1096.3 L1093.9,1085.5 L1095.9,1074.5 L1098.0,1063.3 L1100.4,1052.1 L1103.0,1040.7 L1105.9,1029.2 L1109.0,1017.7 L1112.5,1006.1 L1116.3,994.5 L1121.1,981.3 L1125.9,969.4 L1130.7,958.5 L1135.5,948.6 L1140.3,939.4 L1145.1,930.9 L1149.9,923.0 L1154.7,915.6 L1159.5,908.7 L1164.3,902.2 L1169.1,896.0 L1173.9,890.2 L1178.8,884.7 L1183.6,879.4 L1188.4,874.5 L1193.2,869.7 L1198.0,865.1 L1202.8,860.8 L1207.6,856.6 L1212.4,852.6 L1217.2,848.7 L1222.0,845.0 L1226.8,841.4 L1231.6,837.9 L1236.4,834.6 L1241.2,831.4 L1246.0,828.3 L1250.8,825.2 L1255.6,822.3 L1260.4,819.5 L1265.2,816.7 L1270.0,814.0 L1274.9,811.4 L1279.7,808.9 L1284.5,806.4 L1289.3,804.0 L1294.1,801.7 L1298.9,799.4 L1303.7,797.2 L1308.5,795.1 L1313.3,792.9 L1318.1,790.9 L1322.9,788.9 L1327.7,786.9 L1332.5,785.0 L1337.3,783.1 L1342.1,781.2 L1346.9,779.4 L1351.7,777.7 L1356.5,775.9 L1361.3,774.3 L1366.1,772.6 L1371.0,771.0 L1375.8,769.4 L1380.6,767.8 L1385.4,766.3 L1390.2,764.8 L1395.0,763.3 L1399.8,761.8 L1404.6,760.4 L1409.4,759.0 L1414.2,757.6 L1419.0,756.3 L1423.8,754.9 L1428.6,753.6 L1433.4,752.3 L1438.2,751.1 L1443.0,749.8 L1447.8,748.6 L1452.6,747.4 L1457.4,746.2 L1462.2,745.0 L1467.1,743.9 L1471.9,742.7 L1476.7,741.6 L1481.5,740.5 L1486.3,739.4 L1491.1,738.3 L1495.9,737.3 L1500.7,736.2 L1505.5,735.2 L1510.3,734.2 L1515.1,733.2 L1519.9,732.2 L1524.7,731.2 L1529.5,730.3 L1534.3,729.3 L1539.1,728.4 L1543.9,727.5 L1548.7,726.6 L1553.5,725.7 L1558.4,724.8 L1563.2,723.9 L1568.0,723.0 L1572.8,722.2 L1577.6,721.3 L1582.4,720.5 L1587.2,719.7 L1592.0,718.8 L1596.8,718.0 L1601.6,717.2 L1606.4,716.5 L1611.2,715.7 L1616.0,714.9 L1620.8,714.1 L1625.6,713.4 L1630.4,712.6 L1635.2,711.9 L1640.0,711.2 L1644.8,710.5 L1649.6,709.7 L1654.5,709.0 L1659.3,708.3 L1664.1,707.7 L1668.9,707.0 L1673.7,706.3 L1678.5,705.6 L1683.3,705.0 L1688.1,704.3 L1692.9,703.7 L1697.7,703.0 L1702.5,702.4 L1707.3,701.7 L1712.1,701.1 L1716.9,700.5 L1721.7,699.9 L1726.5,699.3 L1731.3,698.7 L1736.1,698.1 L1740.9,697.5 L1745.7,696.9 L1750.6,696.3 L1755.4,695.8 L1760.2,695.2 L1765.0,694.6 L1769.8,694.1 L1774.6,693.5 L1779.4,693.0 L1784.2,692.4 L1789.0,691.9 L1793.8,691.4 L1798.6,690.8 L1803.4,690.3 L1808.2,689.8 L1813.0,689.3 L1817.8,688.8 L1822.6,688.2 L1827.4,687.7 L1832.2,687.2 L1837.0,686.7 L1841.8,686.3 L1846.7,685.8 L1851.5,685.3 L1856.3,684.8 L1861.1,684.3 L1865.9,683.9 L1870.7,683.4 L1875.5,682.9 L1880.3,682.5 L1885.1,682.0 L1889.9,681.6 L1894.7,681.1 L1899.5,680.7 L1904.3,680.2 L1909.1,679.8 L1913.9,679.4 L1918.7,678.9 L1923.5,678.5 L1928.3,678.1 L1933.1,677.6 L1938.0,677.2 L1942.8,676.8 L1947.6,676.4 L1952.4,676.0 L1957.2,675.6 L1962.0,675.2 L1966.8,674.8 L1971.6,674.4 L1976.4,674.0 L1981.2,673.6 L1986.0,673.2 L1990.8,672.8 L1995.6,672.4 L2000.4,672.0 L2005.2,671.7 L2010.0,671.3 L2014.8,670.9 L2019.6,670.5 L2024.4,670.2 L2029.2,669.8 L2034.1,669.4 L2038.9,669.1 L2043.7,668.7 L2048.5,668.4 L2053.3,668.0 L2058.1,667.7 L2062.9,667.3 L2067.7,667.0 L2072.5,666.6 L2077.3,666.3 L2082.1,665.9 L2086.9,665.6 L2091.7,665.3 L2096.5,664.9 L2101.3,664.6 L2106.1,664.3 L2110.9,663.9 L2115.7,663.6 L2120.5,663.3 L2125.3,663.0 L2130.2,662.7 L2135.0,662.3 L2139.8,662.0 L2144.6,661.7 L2149.4,661.4 L2154.2,661.1 L2159.0,660.8 L2163.8,660.5 L2168.6,660.2 L2173.4,659.9 L2178.2,659.6 L2183.0,659.3 L2187.8,659.0 L2192.6,658.7 L2197.4,658.4 L2202.2,658.1 L2207.0,657.8 L2211.8,657.5 L2216.6,657.2 L2221.5,656.9 L2226.3,656.7 L2231.1,656.4 L2235.9,656.1 L2240.7,655.8 L2245.5,655.5 L2250.3,655.3 L2255.1,655.0 L2259.9,654.7 L2264.7,654.5 L2269.5,654.2 L2274.3,653.9 L2279.1,653.6 L2283.9,653.4 L2288.7,653.1 L2293.5,652.9 L2298.3,652.6 L2303.1,652.3 L2307.9,652.1 L2312.7,651.8 L2317.6,651.6 L2322.4,651.3 L2327.2,651.1 L2332.0,650.8 L2336.8,650.6 L2341.6,650.3 L2346.4,650.1 L2351.2,649.8 L2356.0,649.6 L2360.8,649.3 L2365.6,649.1 L2370.4,648.9 L2375.2,648.6 L2380.0,648.4 L2384.8,648.1 L2389.6,647.9 L2394.4,647.7 L2399.2,647.4 L2404.0,647.2 L2408.8,647.0 L2413.7,646.8 L2418.5,646.5 L2423.3,646.3 L2428.1,646.1 L2432.9,645.8 L2437.7,645.6 L2442.5,645.4 L2447.3,645.2 L2452.1,645.0 L2456.9,644.7 L2461.7,644.5 L2466.5,644.3 L2471.3,644.1 L2476.1,643.9 L2480.9,643.7 L2485.7,643.4 L2490.5,643.2 L2495.3,643.0 L2500.1,642.8 L2504.9,642.6 L2509.8,642.4 L2514.6,642.2 L2519.4,642.0 L2524.2,641.8 L2529.0,641.6 L2533.8,641.4 L2538.6,641.2 L2543.4,641.0 L2548.2,640.8 L2553.0,640.6" fill="none" stroke="#707070" stroke-width="4.6" stroke-dasharray="45 55" stroke-linecap="round"/>
<path d="M1015.8,1317.0 L1015.8,1317.0 L1015.8,1317.0 L1015.8,1317.0 L1015.8,1317.0 L1015.8,1317.0 L1015.8,1317.0 L1015.8,1317.0 L1015.8,1317.0 L1015.8,1317.0 L1015.8,1317.0 L1015.8,1317.0 L1015.8,1317.0 L1015.8,1317.0 L1015.8,1316.9 L1015.8,1316.9 L1015.8,1316.9 L1015.8,1316.9 L1015.8,1316.9 L1015.8,1316.9 L1015.8,1316.9 L1015.8,1316.9 L1015.8,1316.9 L1015.8,1316.8 L1015.8,1316.8 L1015.8,1316.8 L1015.8,1316.8 L1015.8,1316.8 L1015.8,1316.7 L1015.8,1316.7 L1015.8,1316.7 L1015.8,1316.7 L1015.8,1316.6 L1015.8,1316.6 L1015.8,1316.5 L1015.8,1316.5 L1015.8,1316.4 L1015.8,1316.4 L1015.8,1316.3 L1015.8,1316.2 L1015.8,1316.2 L1015.8,1316.1 L1015.8,1316.0 L1015.8,1315.9 L1015.8,1315.8 L1015.8,1315.6 L1015.8,1315.5 L1015.8,1315.4 L1015.8,1315.2 L1015.8,1315.0 L1015.8,1314.8 L1015.8,1314.6 L1015.9,1314.4 L1015.9,1314.1 L1015.9,1313.8 L1015.9,1313.5 L1015.9,1313.1 L1015.9,1312.8 L1015.9,1312.3 L1015.9,1311.9 L1015.9,1311.4 L1015.9,1310.8 L1016.0,1310.2 L1016.0,1309.6 L1016.0,1308.8 L1016.0,1308.1 L1016.1,1307.2 L1016.1,1306.2 L1016.1,1305.2 L1016.1,1304.1 L1016.2,1302.8 L1016.2,1301.5 L1016.3,1300.0 L1016.3,1298.4 L1016.4,1296.7 L1016.4,1294.8 L1016.5,1292.8 L1016.6,1290.5 L1016.6,1288.1 L1016.7,1285.5 L1016.8,1282.7 L1016.9,1279.7 L1017.0,1276.4 L1017.2,1272.9 L1017.3,1269.1 L1017.4,1265.0 L1017.6,1260.6 L1017.8,1256.0 L1018.0,1251.0 L1018.2,1245.8 L1018.5,1240.2 L1018.7,1234.3 L1019.0,1228.0 L1019.3,1221.4 L1019.7,1214.4 L1020.1,1207.2 L1020.5,1199.5 L1021.0,1191.6 L1021.5,1183.3 L1022.1,1174.7 L1022.7,1165.8 L1023.4,1156.6 L1024.2,1147.1 L1025.0,1137.3 L1025.9,1127.3 L1026.9,1117.1 L1028.0,1106.6 L1029.3,1096.0 L1030.6,1085.1 L1032.1,1074.1 L1033.7,1063.0 L1035.5,1051.7 L1037.4,1040.3 L1039.6,1028.9 L1042.0,1017.3 L1044.6,1005.8 L1047.4,994.2 L1050.6,982.6 L1054.0,971.0 L1057.9,959.4 L1061.4,949.5 L1065.0,940.4 L1068.5,931.9 L1072.1,924.1 L1075.6,916.7 L1079.2,909.8 L1082.7,903.3 L1086.3,897.2 L1089.8,891.4 L1093.4,885.9 L1096.9,880.7 L1100.5,875.7 L1104.0,870.9 L1107.6,866.4 L1111.1,862.0 L1114.7,857.9 L1118.2,853.8 L1121.8,850.0 L1125.4,846.3 L1128.9,842.7 L1132.5,839.2 L1136.0,835.9 L1139.6,832.7 L1143.1,829.6 L1146.7,826.5 L1150.2,823.6 L1153.8,820.8 L1157.3,818.0 L1160.9,815.4 L1164.4,812.8 L1168.0,810.2 L1171.5,807.8 L1175.1,805.4 L1178.6,803.0 L1182.2,800.8 L1185.7,798.5 L1189.3,796.4 L1192.8,794.3 L1196.4,792.2 L1200.0,790.2 L1203.5,788.2 L1207.1,786.3 L1210.6,784.4 L1214.2,782.5 L1217.7,780.7 L1221.3,779.0 L1224.8,777.2 L1228.4,775.5 L1231.9,773.9 L1235.5,772.3 L1239.0,770.7 L1242.6,769.1 L1246.1,767.5 L1249.7,766.0 L1253.2,764.6 L1256.8,763.1 L1260.3,761.7 L1263.9,760.3 L1267.4,758.9 L1271.0,757.5 L1274.5,756.2 L1278.1,754.9 L1281.7,753.6 L1285.2,752.3 L1288.8,751.1 L1292.3,749.8 L1295.9,748.6 L1299.4,747.4 L1303.0,746.3 L1306.5,745.1 L1310.1,744.0 L1313.6,742.8 L1317.2,741.7 L1320.7,740.6 L1324.3,739.6 L1327.8,738.5 L1331.4,737.5 L1334.9,736.4 L1338.5,735.4 L1342.0,734.4 L1345.6,733.4 L1349.1,732.5 L1352.7,731.5 L1356.3,730.5 L1359.8,729.6 L1363.4,728.7 L1366.9,727.8 L1370.5,726.9 L1374.0,726.0 L1377.6,725.1 L1381.1,724.2 L1384.7,723.4 L1388.2,722.5 L1391.8,721.7 L1395.3,720.9 L1398.9,720.0 L1402.4,719.2 L1406.0,718.4 L1409.5,717.6 L1413.1,716.9 L1416.6,716.1 L1420.2,715.3 L1423.7,714.6 L1427.3,713.8 L1430.9,713.1 L1434.4,712.3 L1438.0,711.6 L1441.5,710.9 L1445.1,710.2 L1448.6,709.5 L1452.2,708.8 L1455.7,708.1 L1459.3,707.4 L1462.8,706.8 L1466.4,706.1 L1469.9,705.4 L1473.5,704.8 L1477.0,704.1 L1480.6,703.5 L1484.1,702.9 L1487.7,702.3 L1491.2,701.6 L1494.8,701.0 L1498.3,700.4 L1501.9,699.8 L1505.4,699.2 L1509.0,698.6 L1512.6,698.0 L1516.1,697.4 L1519.7,696.9 L1523.2,696.3 L1526.8,695.7 L1530.3,695.2 L1533.9,694.6 L1537.4,694.1 L1541.0,693.5 L1544.5,693.0 L1548.1,692.5 L1551.6,691.9 L1555.2,691.4 L1558.7,690.9 L1562.3,690.4 L1565.8,689.8 L1569.4,689.3 L1572.9,688.8 L1576.5,688.3 L1580.0,687.8 L1583.6,687.3 L1587.2,686.9 L1590.7,686.4 L1594.3,685.9 L1597.8,685.4 L1601.4,684.9 L1604.9,684.5 L1608.5,684.0 L1612.0,683.5 L1615.6,683.1 L1619.1,682.6 L1622.7,682.2 L1626.2,681.7 L1629.8,681.3 L1633.3,680.8 L1636.9,680.4 L1640.4,680.0 L1644.0,679.5 L1647.5,679.1 L1651.1,678.7 L1654.6,678.3 L1658.2,677.9 L1661.8,677.4 L1665.3,677.0 L1668.9,676.6 L1672.4,676.2 L1676.0,675.8 L1679.5,675.4 L1683.1,675.0 L1686.6,674.6 L1690.2,674.2 L1693.7,673.8 L1697.3,673.5 L1700.8,673.1 L1704.4,672.7 L1707.9,672.3 L1711.5,671.9 L1715.0,671.6 L1718.6,671.2 L1722.1,670.8 L1725.7,670.5 L1729.2,670.1 L1732.8,669.7 L1736.4,669.4 L1739.9,669.0 L1743.5,668.7 L1747.0,668.3 L1750.6,668.0 L1754.1,667.6 L1757.7,667.3 L1761.2,666.9 L1764.8,666.6 L1768.3,666.3 L1771.9,665.9 L1775.4,665.6 L1779.0,665.3 L1782.5,664.9 L1786.1,664.6 L1789.6,664.3 L1793.2,664.0 L1796.7,663.6 L1800.3,663.3 L1803.8,663.0 L1807.4,662.7 L1810.9,662.4 L1814.5,662.1 L1818.1,661.8 L1821.6,661.4 L1825.2,661.1 L1828.7,660.8 L1832.3,660.5 L1835.8,660.2 L1839.4,659.9 L1842.9,659.6 L1846.5,659.3 L1850.0,659.1 L1853.6,658.8 L1857.1,658.5 L1860.7,658.2 L1864.2,657.9 L1867.8,657.6 L1871.3,657.3 L1874.9,657.0 L1878.4,656.8 L1882.0,656.5 L1885.5,656.2 L1889.1,655.9 L1892.7,655.7 L1896.2,655.4 L1899.8,655.1 L1903.3,654.9 L1906.9,654.6 L1910.4,654.3 L1914.0,654.1 L1917.5,653.8 L1921.1,653.5 L1924.6,653.3 L1928.2,653.0 L1931.7,652.8 L1935.3,652.5 L1938.8,652.2 L1942.4,652.0 L1945.9,651.7 L1949.5,651.5 L1953.0,651.2 L1956.6,651.0 L1960.1,650.7 L1963.7,650.5 L1967.3,650.3 L1970.8,650.0 L1974.4,649.8 L1977.9,649.5 L1981.5,649.3 L1985.0,649.1 L1988.6,648.8 L1992.1,648.6 L1995.7,648.3 L1999.2,648.1 L2002.8,647.9 L2006.3,647.7 L2009.9,647.4 L2013.4,647.2 L2017.0,647.0 L2020.5,646.7 L2024.1,646.5 L2027.6,646.3 L2031.2,646.1 L2034.7,645.8 L2038.3,645.6 L2041.8,645.4 L2045.4,645.2 L2049.0,645.0 L2052.5,644.8 L2056.1,644.5 L2059.6,644.3 L2063.2,644.1 L2066.7,643.9 L2070.3,643.7 L2073.8,643.5 L2077.4,643.3 L2080.9,643.1 L2084.5,642.9 L2088.0,642.7 L2091.6,642.4 L2095.1,642.2 L2098.7,642.0 L2102.2,641.8 L2105.8,641.6 L2109.3,641.4 L2112.9,641.2 L2116.4,641.0 L2120.0,640.8" fill="none" stroke="#111" stroke-width="4.2" stroke-dasharray="12 11"/>
<path d="M1132.6,1317.0 L1132.6,1317.0 L1132.6,1317.0 L1132.6,1317.0 L1132.6,1317.0 L1132.6,1317.0 L1132.6,1317.0 L1132.6,1317.0 L1132.6,1317.0 L1132.6,1317.0 L1132.6,1317.0 L1132.6,1317.0 L1132.6,1317.0 L1132.6,1317.0 L1132.6,1317.0 L1132.6,1317.0 L1132.6,1317.0 L1132.6,1317.0 L1132.6,1316.9 L1132.6,1316.9 L1132.6,1316.9 L1132.6,1316.9 L1132.6,1316.9 L1132.6,1316.9 L1132.6,1316.9 L1132.6,1316.9 L1132.6,1316.9 L1132.6,1316.9 L1132.6,1316.8 L1132.6,1316.8 L1132.6,1316.8 L1132.6,1316.8 L1132.6,1316.8 L1132.6,1316.7 L1132.6,1316.7 L1132.6,1316.7 L1132.6,1316.7 L1132.6,1316.6 L1132.6,1316.6 L1132.7,1316.5 L1132.7,1316.5 L1132.7,1316.4 L1132.7,1316.4 L1132.7,1316.3 L1132.7,1316.3 L1132.7,1316.2 L1132.7,1316.1 L1132.7,1316.0 L1132.7,1315.9 L1132.7,1315.8 L1132.7,1315.7 L1132.7,1315.6 L1132.7,1315.4 L1132.7,1315.2 L1132.7,1315.1 L1132.7,1314.9 L1132.7,1314.7 L1132.7,1314.4 L1132.8,1314.2 L1132.8,1313.9 L1132.8,1313.6 L1132.8,1313.3 L1132.8,1312.9 L1132.8,1312.5 L1132.9,1312.1 L1132.9,1311.6 L1132.9,1311.0 L1132.9,1310.5 L1133.0,1309.8 L1133.0,1309.1 L1133.0,1308.4 L1133.1,1307.5 L1133.1,1306.6 L1133.2,1305.6 L1133.2,1304.5 L1133.3,1303.3 L1133.3,1302.0 L1133.4,1300.6 L1133.5,1299.1 L1133.6,1297.4 L1133.7,1295.6 L1133.8,1293.6 L1133.9,1291.4 L1134.0,1289.1 L1134.2,1286.5 L1134.3,1283.8 L1134.5,1280.9 L1134.7,1277.7 L1134.9,1274.2 L1135.1,1270.5 L1135.3,1266.6 L1135.6,1262.4 L1135.9,1257.8 L1136.2,1253.0 L1136.6,1247.8 L1136.9,1242.4 L1137.4,1236.6 L1137.8,1230.4 L1138.4,1224.0 L1138.9,1217.2 L1139.6,1210.0 L1140.3,1202.5 L1141.0,1194.7 L1141.9,1186.5 L1142.8,1178.0 L1143.8,1169.3 L1144.9,1160.2 L1146.1,1150.8 L1147.4,1141.1 L1148.9,1131.2 L1150.5,1121.0 L1152.3,1110.7 L1154.3,1100.1 L1156.4,1089.3 L1158.8,1078.3 L1161.4,1067.3 L1164.3,1056.0 L1167.4,1044.7 L1170.9,1033.3 L1174.7,1021.8 L1179.3,1009.1 L1183.9,997.6 L1188.5,987.1 L1193.1,977.4 L1197.8,968.4 L1202.4,960.1 L1207.0,952.2 L1211.6,944.9 L1216.2,938.0 L1220.8,931.5 L1225.4,925.4 L1230.0,919.6 L1234.6,914.0 L1239.2,908.7 L1243.9,903.7 L1248.5,898.9 L1253.1,894.3 L1257.7,889.9 L1262.3,885.6 L1266.9,881.5 L1271.5,877.6 L1276.1,873.8 L1280.7,870.2 L1285.3,866.6 L1290.0,863.2 L1294.6,859.9 L1299.2,856.7 L1303.8,853.6 L1308.4,850.6 L1313.0,847.7 L1317.6,844.8 L1322.2,842.1 L1326.8,839.4 L1331.4,836.8 L1336.0,834.2 L1340.7,831.8 L1345.3,829.4 L1349.9,827.0 L1354.5,824.7 L1359.1,822.5 L1363.7,820.3 L1368.3,818.1 L1372.9,816.0 L1377.5,814.0 L1382.1,812.0 L1386.8,810.0 L1391.4,808.1 L1396.0,806.2 L1400.6,804.4 L1405.2,802.6 L1409.8,800.8 L1414.4,799.1 L1419.0,797.4 L1423.6,795.7 L1428.2,794.1 L1432.9,792.5 L1437.5,790.9 L1442.1,789.3 L1446.7,787.8 L1451.3,786.3 L1455.9,784.8 L1460.5,783.4 L1465.1,782.0 L1469.7,780.6 L1474.3,779.2 L1478.9,777.8 L1483.6,776.5 L1488.2,775.2 L1492.8,773.9 L1497.4,772.6 L1502.0,771.4 L1506.6,770.2 L1511.2,768.9 L1515.8,767.7 L1520.4,766.6 L1525.0,765.4 L1529.7,764.2 L1534.3,763.1 L1538.9,762.0 L1543.5,760.9 L1548.1,759.8 L1552.7,758.7 L1557.3,757.7 L1561.9,756.6 L1566.5,755.6 L1571.1,754.6 L1575.8,753.6 L1580.4,752.6 L1585.0,751.6 L1589.6,750.6 L1594.2,749.7 L1598.8,748.8 L1603.4,747.8 L1608.0,746.9 L1612.6,746.0 L1617.2,745.1 L1621.8,744.2 L1626.5,743.3 L1631.1,742.5 L1635.7,741.6 L1640.3,740.8 L1644.9,739.9 L1649.5,739.1 L1654.1,738.3 L1658.7,737.5 L1663.3,736.6 L1667.9,735.9 L1672.6,735.1 L1677.2,734.3 L1681.8,733.5 L1686.4,732.8 L1691.0,732.0 L1695.6,731.3 L1700.2,730.5 L1704.8,729.8 L1709.4,729.1 L1714.0,728.4 L1718.7,727.6 L1723.3,726.9 L1727.9,726.2 L1732.5,725.6 L1737.1,724.9 L1741.7,724.2 L1746.3,723.5 L1750.9,722.9 L1755.5,722.2 L1760.1,721.6 L1764.7,720.9 L1769.4,720.3 L1774.0,719.6 L1778.6,719.0 L1783.2,718.4 L1787.8,717.8 L1792.4,717.2 L1797.0,716.6 L1801.6,716.0 L1806.2,715.4 L1810.8,714.8 L1815.5,714.2 L1820.1,713.6 L1824.7,713.0 L1829.3,712.5 L1833.9,711.9 L1838.5,711.4 L1843.1,710.8 L1847.7,710.2 L1852.3,709.7 L1856.9,709.2 L1861.6,708.6 L1866.2,708.1 L1870.8,707.6 L1875.4,707.0 L1880.0,706.5 L1884.6,706.0 L1889.2,705.5 L1893.8,705.0 L1898.4,704.5 L1903.0,704.0 L1907.6,703.5 L1912.3,703.0 L1916.9,702.5 L1921.5,702.0 L1926.1,701.5 L1930.7,701.0 L1935.3,700.6 L1939.9,700.1 L1944.5,699.6 L1949.1,699.2 L1953.7,698.7 L1958.4,698.3 L1963.0,697.8 L1967.6,697.3 L1972.2,696.9 L1976.8,696.5 L1981.4,696.0 L1986.0,695.6 L1990.6,695.1 L1995.2,694.7 L1999.8,694.3 L2004.4,693.8 L2009.1,693.4 L2013.7,693.0 L2018.3,692.6 L2022.9,692.2 L2027.5,691.8 L2032.1,691.4 L2036.7,690.9 L2041.3,690.5 L2045.9,690.1 L2050.5,689.7 L2055.2,689.3 L2059.8,689.0 L2064.4,688.6 L2069.0,688.2 L2073.6,687.8 L2078.2,687.4 L2082.8,687.0 L2087.4,686.6 L2092.0,686.3 L2096.6,685.9 L2101.3,685.5 L2105.9,685.2 L2110.5,684.8 L2115.1,684.4 L2119.7,684.1 L2124.3,683.7 L2128.9,683.3 L2133.5,683.0 L2138.1,682.6 L2142.7,682.3 L2147.3,681.9 L2152.0,681.6 L2156.6,681.2 L2161.2,680.9 L2165.8,680.6 L2170.4,680.2 L2175.0,679.9 L2179.6,679.5 L2184.2,679.2 L2188.8,678.9 L2193.4,678.6 L2198.1,678.2 L2202.7,677.9 L2207.3,677.6 L2211.9,677.3 L2216.5,676.9 L2221.1,676.6 L2225.7,676.3 L2230.3,676.0 L2234.9,675.7 L2239.5,675.4 L2244.2,675.1 L2248.8,674.8 L2253.4,674.4 L2258.0,674.1 L2262.6,673.8 L2267.2,673.5 L2271.8,673.2 L2276.4,672.9 L2281.0,672.6 L2285.6,672.4 L2290.2,672.1 L2294.9,671.8 L2299.5,671.5 L2304.1,671.2 L2308.7,670.9 L2313.3,670.6 L2317.9,670.3 L2322.5,670.1 L2327.1,669.8 L2331.7,669.5 L2336.3,669.2 L2341.0,668.9 L2345.6,668.7 L2350.2,668.4 L2354.8,668.1 L2359.4,667.8 L2364.0,667.6 L2368.6,667.3 L2373.2,667.0 L2377.8,666.8 L2382.4,666.5 L2387.1,666.3 L2391.7,666.0 L2396.3,665.7 L2400.9,665.5 L2405.5,665.2 L2410.1,665.0 L2414.7,664.7 L2419.3,664.5 L2423.9,664.2 L2428.5,663.9 L2433.1,663.7 L2437.8,663.4 L2442.4,663.2 L2447.0,663.0 L2451.6,662.7 L2456.2,662.5 L2460.8,662.2 L2465.4,662.0 L2470.0,661.7 L2474.6,661.5 L2479.2,661.3 L2483.9,661.0 L2488.5,660.8 L2493.1,660.6 L2497.7,660.3 L2502.3,660.1 L2506.9,659.9 L2511.5,659.6 L2516.1,659.4 L2520.7,659.2 L2525.3,658.9 L2530.0,658.7 L2534.6,658.5 L2539.2,658.3 L2543.8,658.0 L2548.4,657.8 L2553.0,657.6" fill="none" stroke="#111" stroke-width="4.2" stroke-dasharray="12 11"/>
<circle cx="1122.7" cy="481.9" r="7.5" fill="#3a3a6e"/>
<circle cx="1183.1" cy="692.4" r="7.5" fill="#3838a0"/>
<circle cx="1367.4" cy="743.8" r="7.5" fill="#3a3a98"/>
<circle cx="1299.6" cy="795" r="7.5" fill="#3030a0"/>
<circle cx="1141" cy="838.2" r="7.5" fill="#333370"/>
<circle cx="1351.8" cy="829.7" r="7.5" fill="#3434a8"/>
<circle cx="1492.6" cy="795.6" r="7.5" fill="#3333a0"/>
<circle cx="1681.1" cy="448.7" r="7.5" fill="#3a3a3a"/>
<circle cx="1664.6" cy="664" r="7.5" fill="#3434b0"/>
<circle cx="1754.6" cy="630" r="7.5" fill="#38386e"/>
<circle cx="1729.6" cy="829.6" r="7.5" fill="#3a3a5a"/>
<circle cx="1476.2" cy="1041.6" r="7.5" fill="#3838a0"/>
<circle cx="1848.2" cy="287" r="7.5" fill="#3a2ea8"/>
<circle cx="2121.4" cy="384.6" r="7.5" fill="#3a2ea8"/>
<circle cx="2282.9" cy="501.4" r="7.5" fill="#45407a"/>
<circle cx="2314" cy="744.7" r="7.5" fill="#38389a"/>
<g font-family='"Liberation Serif", serif' font-size="55" fill="#111">
<text x="1024.1" y="498">W3</text>
<text x="1069.4" y="705.7">W23</text>
<text x="1250.8" y="765.8">W13</text>
<text x="1185.1" y="805.8">W27</text>
<text x="1016.2" y="865">W24</text>
<text x="1245.5" y="878.5">W14</text>
<text x="1394" y="844.5">Ws1</text>
<text x="1574.5" y="494">W16</text>
<text x="1576.3" y="671.2">W1</text>
<text x="1648" y="638.7">W31</text>
<text x="1628.1" y="875">W32</text>
<text x="1380.1" y="1081">W28</text>
<text x="1740.2" y="329">W18</text>
<text x="2008.8" y="431.5">W30</text>
<text x="2164.8" y="518.6">W12</text>
<text x="2200" y="769.2">W17</text>
</g>
<rect x="2100" y="990" width="450" height="290" fill="#f7f7f7"/>
<circle cx="2164" cy="1013.9" r="10" fill="#3848b0"/>
<rect x="2112" y="1060" width="100" height="6" fill="#fbe0ea"/>
<line x1="2115" y1="1070.4" x2="2212" y2="1070.4" stroke="#7e2444" stroke-width="6" stroke-linecap="round"/>
<line x1="2116.8" y1="1128.4" x2="2130.8" y2="1128.4" stroke="#111" stroke-width="5" stroke-linecap="round"/>
<line x1="2147.2" y1="1128.4" x2="2161.2" y2="1128.4" stroke="#111" stroke-width="5" stroke-linecap="round"/>
<line x1="2178.2" y1="1128.4" x2="2192.2" y2="1128.4" stroke="#111" stroke-width="5" stroke-linecap="round"/>
<circle cx="2210" cy="1128.4" r="2.5" fill="#111"/>
<line x1="2116.8" y1="1186.4" x2="2130.8" y2="1186.4" stroke="#111" stroke-width="5" stroke-linecap="round"/>
<line x1="2147.2" y1="1186.4" x2="2161.2" y2="1186.4" stroke="#111" stroke-width="5" stroke-linecap="round"/>
<line x1="2178.2" y1="1186.4" x2="2192.2" y2="1186.4" stroke="#111" stroke-width="5" stroke-linecap="round"/>
<circle cx="2210" cy="1186.4" r="2.5" fill="#111"/>
<circle cx="2165.3" cy="1241.8" r="4" fill="#111"/>
<g font-family='"Liberation Serif", serif' font-size="55" fill="#111">
<text x="2215" y="1027">Samples</text>
<text x="2215.4" y="1083">Best fit line</text>
<text x="2213.7" y="1141">+25% Error</text>
<text x="2213.7" y="1197">−25% Error</text>
<text x="2216.6" y="1253">Aquifer points</text>
</g>
<g stroke="#1a1a1a" fill="none"><line x1="772" y1="2.3" x2="2556.5" y2="2.3" stroke-width="4.6"/><line x1="774" y1="0" x2="774" y2="1321" stroke-width="4"/><line x1="2554.5" y1="0" x2="2554.5" y2="1321" stroke-width="3.5"/><line x1="772" y1="1319" x2="2556.5" y2="1319" stroke-width="4"/></g>
<g stroke="#1a1a1a"><line x1="776" y1="340.5" x2="792" y2="340.5" stroke-width="3.5"/><line x1="776" y1="690.5" x2="792" y2="690.5" stroke-width="3.5"/><line x1="776" y1="1040.5" x2="792" y2="1040.5" stroke-width="3.5"/><line x1="776" y1="1285.1" x2="784" y2="1285.1" stroke-width="3"/><line x1="776" y1="1223.5" x2="784" y2="1223.5" stroke-width="3"/><line x1="776" y1="1179.8" x2="784" y2="1179.8" stroke-width="3"/><line x1="776" y1="1145.9" x2="784" y2="1145.9" stroke-width="3"/><line x1="776" y1="1118.1" x2="784" y2="1118.1" stroke-width="3"/><line x1="776" y1="1094.7" x2="784" y2="1094.7" stroke-width="3"/><line x1="776" y1="1074.4" x2="784" y2="1074.4" stroke-width="3"/><line x1="776" y1="1056.5" x2="784" y2="1056.5" stroke-width="3"/><line x1="776" y1="935.1" x2="784" y2="935.1" stroke-width="3"/><line x1="776" y1="873.5" x2="784" y2="873.5" stroke-width="3"/><line x1="776" y1="829.8" x2="784" y2="829.8" stroke-width="3"/><line x1="776" y1="795.9" x2="784" y2="795.9" stroke-width="3"/><line x1="776" y1="768.1" x2="784" y2="768.1" stroke-width="3"/><line x1="776" y1="744.7" x2="784" y2="744.7" stroke-width="3"/><line x1="776" y1="724.4" x2="784" y2="724.4" stroke-width="3"/><line x1="776" y1="706.5" x2="784" y2="706.5" stroke-width="3"/><line x1="776" y1="585.1" x2="784" y2="585.1" stroke-width="3"/><line x1="776" y1="523.5" x2="784" y2="523.5" stroke-width="3"/><line x1="776" y1="479.8" x2="784" y2="479.8" stroke-width="3"/><line x1="776" y1="445.9" x2="784" y2="445.9" stroke-width="3"/><line x1="776" y1="418.1" x2="784" y2="418.1" stroke-width="3"/><line x1="776" y1="394.7" x2="784" y2="394.7" stroke-width="3"/><line x1="776" y1="374.4" x2="784" y2="374.4" stroke-width="3"/><line x1="776" y1="356.5" x2="784" y2="356.5" stroke-width="3"/><line x1="776" y1="235.1" x2="784" y2="235.1" stroke-width="3"/><line x1="776" y1="173.5" x2="784" y2="173.5" stroke-width="3"/><line x1="776" y1="129.8" x2="784" y2="129.8" stroke-width="3"/><line x1="776" y1="95.9" x2="784" y2="95.9" stroke-width="3"/><line x1="776" y1="68.1" x2="784" y2="68.1" stroke-width="3"/><line x1="776" y1="44.7" x2="784" y2="44.7" stroke-width="3"/><line x1="776" y1="24.4" x2="784" y2="24.4" stroke-width="3"/><line x1="776" y1="6.5" x2="784" y2="6.5" stroke-width="3"/><line x1="840.5" y1="1304" x2="840.5" y2="1317" stroke-width="3"/><line x1="1103.5" y1="1304" x2="1103.5" y2="1317" stroke-width="3"/><line x1="1366.5" y1="1304" x2="1366.5" y2="1317" stroke-width="3"/><line x1="1629.5" y1="1304" x2="1629.5" y2="1317" stroke-width="3"/><line x1="1892.5" y1="1304" x2="1892.5" y2="1317" stroke-width="3"/><line x1="2155.5" y1="1304" x2="2155.5" y2="1317" stroke-width="3"/><line x1="2418.5" y1="1304" x2="2418.5" y2="1317" stroke-width="3"/></g>
<g font-family='"Liberation Serif", serif' font-size="55" fill="#111" text-anchor="middle">
<text x="838.5" y="1375">0</text>
<text x="1101.5" y="1375">500</text>
<text x="1364.5" y="1375">1000</text>
<text x="1627.5" y="1375">1500</text>
<text x="1890.5" y="1375">2000</text>
<text x="2153.5" y="1375">2500</text>
<text x="2416.5" y="1375">3000</text>
</g>
<g font-family='"Liberation Serif", serif' fill="#111">
<text x="683" y="360" font-size="55">10</text><text x="735" y="343" font-size="34">0</text>
<text x="662.3" y="714" font-size="55">10</text><text x="739" y="695" font-size="34">1</text><rect x="720" y="683" width="15.6" height="2.2"/>
<text x="662.8" y="1062" font-size="55">10</text><text x="735" y="1044" font-size="34">2</text><rect x="720" y="1032.5" width="15.6" height="2.2"/>
</g>
<text x="1538.6" y="1431" font-family='"Liberation Serif", serif' font-size="55" fill="#111">Distance/m</text>
<text transform="translate(640.6,842) rotate(-90)" font-family='"Liberation Serif", serif' font-size="56" fill="#111">γ(h), (Log scale)</text>
</svg></body></html>
